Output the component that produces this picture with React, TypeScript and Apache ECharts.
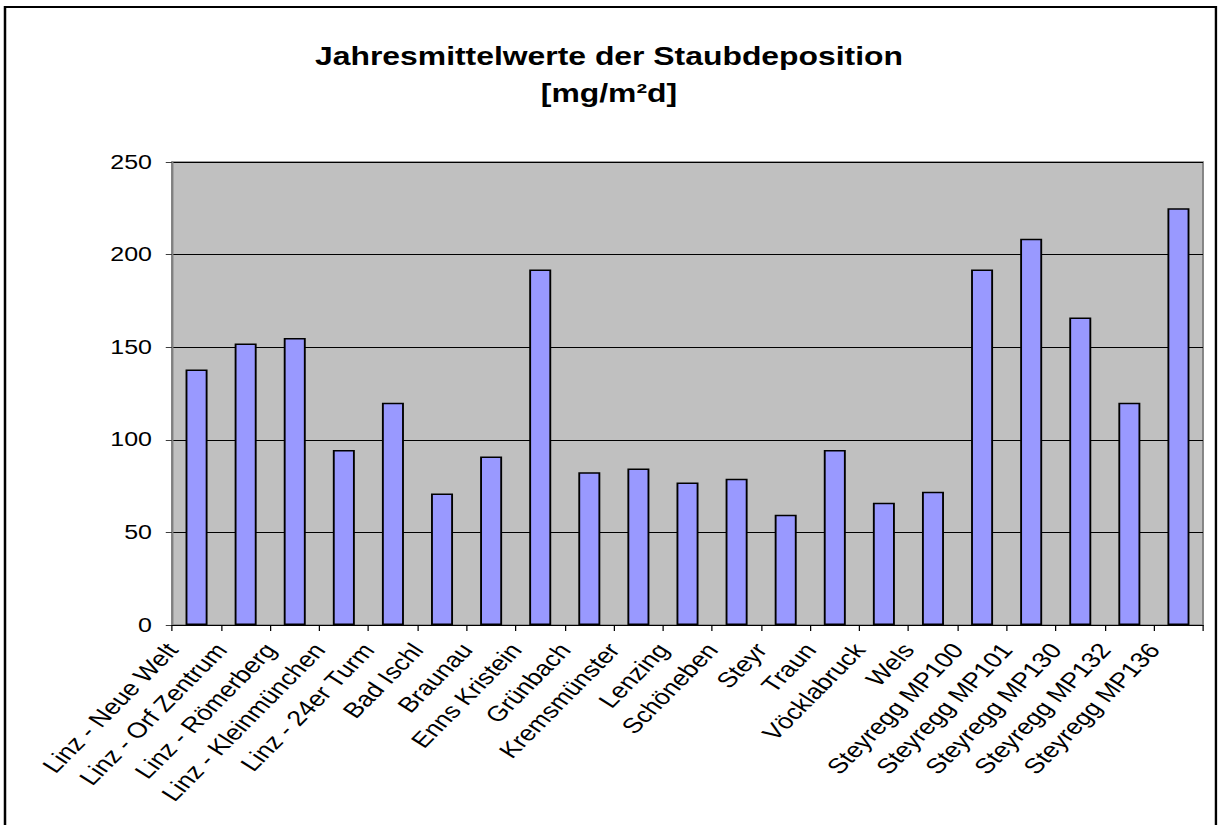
import React, { useEffect, useRef } from "react";
import * as echarts from "echarts";

// The reference is horizontally stretched (Excel export); draw in a narrower
// space and stretch the whole chart horizontally.
const SX = 1.25;
const W = 1218 / SX;
const H = 825;

const titleLines = ["Jahresmittelwerte der Staubdeposition", "[mg/m²d]"];

const categories = [
  "Linz - Neue Welt",
  "Linz - Orf Zentrum",
  "Linz - Römerberg",
  "Linz - Kleinmünchen",
  "Linz - 24er Turm",
  "Bad Ischl",
  "Braunau",
  "Enns Kristein",
  "Grünbach",
  "Kremsmünster",
  "Lenzing",
  "Schöneben",
  "Steyr",
  "Traun",
  "Vöcklabruck",
  "Wels",
  "Steyregg MP100",
  "Steyregg MP101",
  "Steyregg MP130",
  "Steyregg MP132",
  "Steyregg MP136",
];

const values = [
  138, 152, 155, 94.5, 120, 71, 91, 192, 82.5, 84.5, 77, 79, 59.5, 94.5, 66,
  72, 192, 208.5, 166, 120, 225,
];

const yMin = 0;
const yMax = 250;
const yInterval = 50;

const FONT = "'Liberation Sans', Arial, sans-serif";

export default function App() {
  const ref = useRef<HTMLDivElement>(null);

  useEffect(() => {
    if (!ref.current) return;
    const chart = echarts.init(ref.current, null, {
      renderer: "svg",
      width: W,
      height: H,
    });
    chart.setOption({
      animation: false,
      backgroundColor: "#ffffff",
      textStyle: { fontFamily: FONT },
      title: {
        text: titleLines.join("\n"),
        left: "center",
        top: 33,
        textStyle: {
          fontFamily: FONT,
          fontSize: 25.5,
          fontWeight: "bold",
          color: "#000",
          lineHeight: 37,
        },
      },
      graphic: [
        {
          type: "rect",
          shape: { x: 4, y: 7, width: 968.8, height: 840 },
          style: { fill: "none", stroke: "#000", lineWidth: 2 },
          silent: true,
          z: 100,
        },
      ],
      grid: {
        left: 137.6,
        right: W - 962.4,
        top: 162,
        bottom: H - 625,
        show: true,
        backgroundColor: "#C0C0C0",
        borderColor: "#808080",
        borderWidth: 1.5,
      },
      xAxis: [
        {
          type: "category",
          data: categories,
          position: "bottom",
          boundaryGap: true,
          axisLine: { show: true, lineStyle: { color: "#000", width: 1 } },
          axisTick: {
            show: true,
            interval: 0,
            length: 6,
            lineStyle: { color: "#000", width: 1 },
          },
          axisLabel: { show: false },
          splitLine: { show: false },
        },
        {
          type: "category",
          data: [...categories, ""],
          position: "bottom",
          boundaryGap: false,
          axisLine: { show: false },
          axisTick: { show: false },
          splitLine: { show: false },
          axisLabel: {
            interval: 0,
            rotate: 51.34,
            margin: 21,
            fontSize: 21.5,
            color: "#000",
            fontFamily: FONT,
          },
        },
      ],
      yAxis: {
        type: "value",
        min: yMin,
        max: yMax,
        interval: yInterval,
        axisLine: { show: true, lineStyle: { color: "#808080", width: 1.5 } },
        axisTick: {
          show: true,
          length: 5,
          lineStyle: { color: "#404040", width: 1 },
        },
        axisLabel: {
          margin: 16,
          fontSize: 20,
          color: "#000",
          fontFamily: FONT,
        },
        splitLine: { show: true, lineStyle: { color: "#000", width: 1 } },
      },
      series: [
        {
          type: "bar",
          xAxisIndex: 0,
          data: values,
          barWidth: 17.6,
          itemStyle: {
            color: "#9999FF",
            borderColor: "#000",
            borderWidth: 1.5,
          },
        },
      ],
    });
    return () => chart.dispose();
  }, []);

  return (
    <div
      ref={ref}
      style={{
        position: "absolute",
        left: 0,
        top: 0,
        width: W,
        height: H,
        transform: `scaleX(${SX})`,
        transformOrigin: "0 0",
      }}
    />
  );
}
